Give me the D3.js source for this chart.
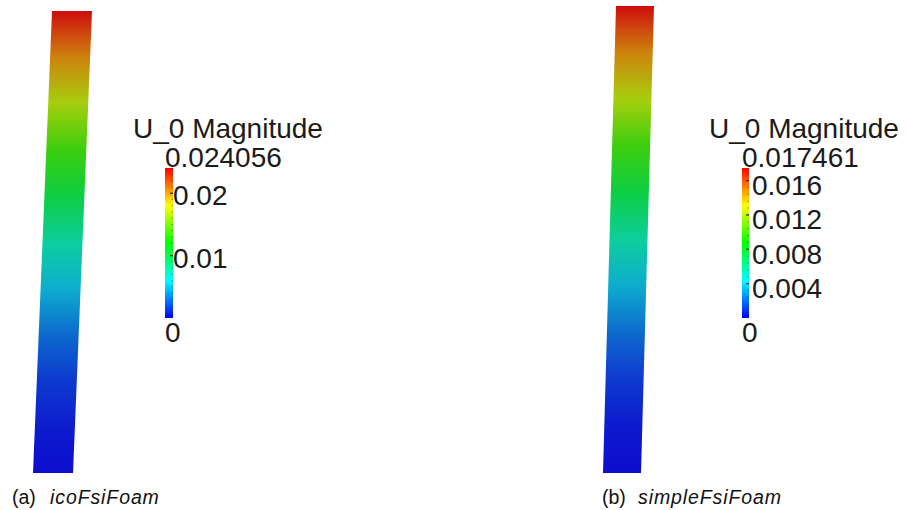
<!DOCTYPE html>
<html>
<head>
<meta charset="utf-8">
<script src="https://cdn.jsdelivr.net/npm/d3@7"></script>
<style>
  html, body { margin: 0; padding: 0; background: #fff; }
  svg { display: block; }
</style>
</head>
<body>
<div id="chart"></div>
<script>
// ---------------- data ----------------
const panelLabels = ["(a)", "(b)"];
const solverNames = ["icoFsiFoam", "simpleFsiFoam"];
const legendTitle = "U_0 Magnitude";
const maxMagnitude = [0.024056, 0.017461];
const tickValuesA = [0.01, 0.02];
const tickValuesB = [0.004, 0.008, 0.012, 0.016];
const minorStepA = 0.001;
const minorStepB = 0.0008;
// relative height along the beam (0 = clamped base, 1 = tip)
const heightStops = [0, 0.1, 0.2, 0.3, 0.4, 0.5, 0.6, 0.7, 0.8, 0.9, 1.0];
// magnitude read along the beam (colour of the field)
const magnitudeA = [0, 0.0005, 0.0014, 0.0029, 0.0050, 0.0075, 0.0104, 0.0135, 0.0168, 0.0204, 0.024056];
const magnitudeB = [0, 0.0003, 0.0010, 0.0021, 0.0036, 0.0055, 0.0075, 0.0098, 0.0122, 0.0148, 0.017461];

// ---------------- layout ----------------
const W = 908, H = 510;
const svg = d3.select("#chart").append("svg")
  .attr("width", W).attr("height", H)
  .attr("viewBox", `0 0 ${W} ${H}`);
svg.append("rect").attr("width", W).attr("height", H).attr("fill", "#fff");
const defs = svg.append("defs");

const panels = [
  { label: panelLabels[0], solver: solverNames[0], max: maxMagnitude[0], ticks: tickValuesA, minor: minorStepA, values: magnitudeA,
    beam: { x0: 33, width: 40, yBottom: 473, yTop: 11, dxPerUnit: 790 },
    bar: { x: 165, width: 8, top: 168, bottom: 318 },
    titleX: 133, labelX: 173, labelDy: 12, caption: { x: 12, italicX: 50 } },
  { label: panelLabels[1], solver: solverNames[1], max: maxMagnitude[1], ticks: tickValuesB, minor: minorStepB, values: magnitudeB,
    beam: { x0: 603, width: 38, yBottom: 473, yTop: 6, dxPerUnit: 745 },
    bar: { x: 742, width: 7, top: 168, bottom: 318 },
    titleX: 709, labelX: 752, labelDy: 14.5, caption: { x: 602, italicX: 638 } }
];

const font = "'Liberation Sans', Arial, Helvetica, sans-serif";

function rainbow(t, s, l) {           // blue -> red (HSV rainbow)
  return d3.hsl(240 * (1 - t), s, l).formatHex();
}

panels.forEach((p, i) => {
  const g = svg.append("g");
  const hScale = d3.scaleLinear().domain([0, 1]).range([p.beam.yBottom, p.beam.yTop]);
  const dScale = d3.scaleLinear().domain([0, p.max]).range([0, p.max * p.beam.dxPerUnit]);
  const cNorm = d3.scaleLinear().domain([0, p.max]).range([0, 1]).clamp(true);

  // beam gradient along its axis
  const gid = "beamGrad" + i;
  const grad = defs.append("linearGradient").attr("id", gid)
    .attr("gradientUnits", "userSpaceOnUse")
    .attr("x1", 0).attr("y1", hScale(0)).attr("x2", 0).attr("y2", hScale(1));
  heightStops.forEach((h, k) => {
    grad.append("stop").attr("offset", h)
      .attr("stop-color", rainbow(cNorm(p.values[k]), 0.88, 0.43));
  });

  // beam outline: bottom (no displacement) to tip (max displacement)
  const ends = [{ h: 0, d: 0 }, { h: 1, d: p.max }];
  const outline = [
    ...ends.map(e => [p.beam.x0 + dScale(e.d), hScale(e.h)]),
    ...ends.slice().reverse().map(e => [p.beam.x0 + p.beam.width + dScale(e.d), hScale(e.h)])
  ];
  g.append("path")
    .attr("d", d3.line()(outline) + "Z")
    .attr("fill", `url(#${gid})`);

  // colour bar
  const yBar = d3.scaleLinear().domain([0, p.max]).range([p.bar.bottom, p.bar.top]);
  const bid = "barGrad" + i;
  const bgrad = defs.append("linearGradient").attr("id", bid)
    .attr("x1", 0).attr("y1", 1).attr("x2", 0).attr("y2", 0);
  d3.range(0, 1.0001, 0.05).forEach(t => {
    bgrad.append("stop").attr("offset", t).attr("stop-color", rainbow(t, 1, 0.5));
  });
  g.append("rect")
    .attr("x", p.bar.x).attr("y", yBar(p.max))
    .attr("width", p.bar.width).attr("height", yBar(0) - yBar(p.max))
    .attr("fill", `url(#${bid})`);

  // minor ticks
  const minorTicks = d3.range(p.minor, p.max, p.minor);
  g.selectAll(".minor").data(minorTicks).join("line")
    .attr("x1", p.bar.x + p.bar.width - 1.5).attr("x2", p.bar.x + p.bar.width)
    .attr("y1", d => yBar(d)).attr("y2", d => yBar(d))
    .attr("stroke", "#333").attr("stroke-opacity", 0.6).attr("stroke-width", 1);
  // major ticks
  g.selectAll(".major").data(p.ticks).join("line")
    .attr("x1", p.bar.x + p.bar.width - 3).attr("x2", p.bar.x + p.bar.width)
    .attr("y1", d => yBar(d)).attr("y2", d => yBar(d))
    .attr("stroke", "#222").attr("stroke-width", 1.2);

  // title
  g.append("text").attr("x", p.titleX).attr("y", 138)
    .attr("font-family", font).attr("font-size", 28).attr("fill", "#1a1a1a")
    .text(legendTitle);

  // range labels
  g.append("text").attr("x", p.bar.x).attr("y", yBar(p.max) - 1)
    .attr("font-family", font).attr("font-size", 28).attr("fill", "#1a1a1a")
    .text(d3.format(".6f")(p.max));
  g.append("text").attr("x", p.bar.x).attr("y", yBar(0) + 24)
    .attr("font-family", font).attr("font-size", 28).attr("fill", "#1a1a1a")
    .text("0");

  // tick labels
  g.selectAll(".tlab").data(p.ticks).join("text")
    .attr("x", p.labelX).attr("y", d => yBar(d) + p.labelDy)
    .attr("font-family", font).attr("font-size", 28).attr("fill", "#1a1a1a")
    .text(d => String(+d.toFixed(4)));

  // caption
  const cap = g.append("text").attr("x", p.caption.x).attr("y", 504)
    .attr("font-family", font).attr("font-size", 19.5).attr("fill", "#111");
  cap.append("tspan").text(p.label);
  cap.append("tspan").attr("x", p.caption.italicX).attr("font-style", "italic")
    .attr("letter-spacing", 0.9).text(p.solver);
});
</script>
</body>
</html>
